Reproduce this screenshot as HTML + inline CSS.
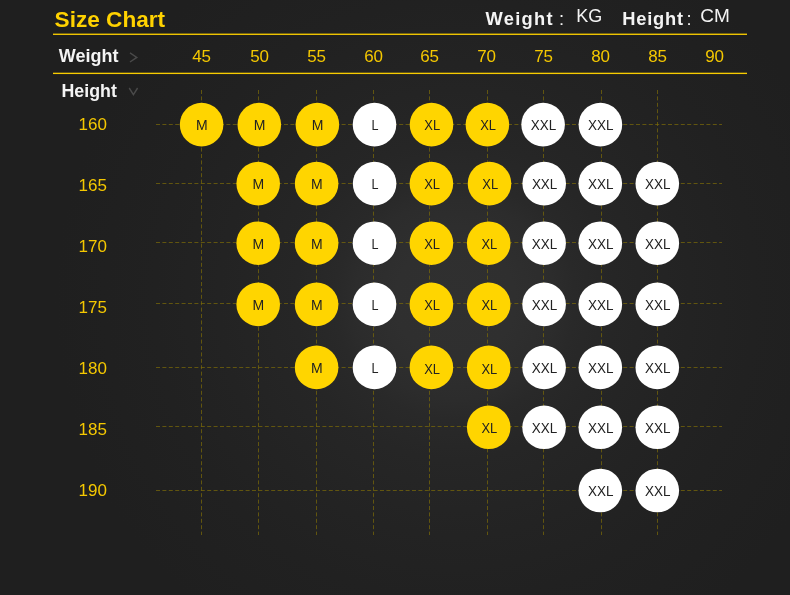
<!DOCTYPE html>
<html lang="en"><head><meta charset="utf-8"><title>Size Chart</title>
<style>
html,body{margin:0;padding:0;background:#1f1f1f;}
body{width:790px;height:595px;overflow:hidden;}
svg{display:block;font-family:"Liberation Sans","DejaVu Sans",sans-serif;}
.t{font-weight:bold;font-size:22.6px;fill:#ffd200;}
.w{font-weight:bold;font-size:18px;fill:#f4f4f4;}
.w2{font-weight:bold;font-size:18.3px;fill:#f4f4f4;}
.u{font-size:18px;fill:#f4f4f4;}
.n{font-size:17px;fill:#f5c800;text-anchor:middle;}
.c{font-size:14px;fill:#222;text-anchor:middle;}
.g{stroke:#7a6a08;stroke-opacity:.72;stroke-width:1;stroke-dasharray:4 2.4;fill:none;}
</style></head><body>
<svg width="790" height="595" viewBox="0 0 790 595">
<defs>
<radialGradient id="bg" gradientUnits="userSpaceOnUse" cx="455" cy="300" r="400">
<stop offset="0" stop-color="#303030"/>
<stop offset="0.15" stop-color="#2f2f2f"/>
<stop offset="0.25" stop-color="#2c2c2c"/>
<stop offset="0.30" stop-color="#292929"/>
<stop offset="0.40" stop-color="#262626"/>
<stop offset="0.59" stop-color="#232323"/>
<stop offset="0.75" stop-color="#212121"/>
<stop offset="1" stop-color="#1f1f1f"/>
</radialGradient>
</defs>
<rect width="790" height="595" fill="#1f1f1f"/>
<rect width="790" height="595" fill="url(#bg)"/>

<line class="g" x1="156" y1="124.5" x2="722" y2="124.5"/>
<line class="g" x1="156" y1="183.5" x2="722" y2="183.5"/>
<line class="g" x1="156" y1="242.5" x2="722" y2="242.5"/>
<line class="g" x1="156" y1="303.5" x2="722" y2="303.5"/>
<line class="g" x1="156" y1="367.5" x2="722" y2="367.5"/>
<line class="g" x1="156" y1="426.5" x2="722" y2="426.5"/>
<line class="g" x1="156" y1="490.5" x2="722" y2="490.5"/>
<line class="g" x1="201.5" y1="90" x2="201.5" y2="535"/>
<line class="g" x1="258.5" y1="90" x2="258.5" y2="535"/>
<line class="g" x1="316.5" y1="90" x2="316.5" y2="535"/>
<line class="g" x1="373.5" y1="90" x2="373.5" y2="535"/>
<line class="g" x1="429.5" y1="90" x2="429.5" y2="535"/>
<line class="g" x1="487.5" y1="90" x2="487.5" y2="535"/>
<line class="g" x1="543.5" y1="90" x2="543.5" y2="535"/>
<line class="g" x1="601.5" y1="90" x2="601.5" y2="535"/>
<line class="g" x1="657.5" y1="90" x2="657.5" y2="535"/>
<text class="t" x="54.6" y="27.1">Size Chart</text>
<rect x="53" y="33.6" width="694" height="1.35" fill="#f8cc00"/>
<rect x="53" y="72.7" width="694" height="1.35" fill="#f8cc00"/>
<text class="w2" x="485.4" y="24.6" textLength="67.2">Weight</text><text class="w2" x="559" y="24.6" style="font-weight:normal">:</text>
<text class="u" x="576.3" y="22.2">KG</text>
<text class="w2" x="622.3" y="24.6" textLength="60.7">Height</text><text class="w2" x="686.5" y="24.6" style="font-weight:normal">:</text>
<text class="u" x="700.3" y="22.2" textLength="29.6" lengthAdjust="spacingAndGlyphs">CM</text>
<text class="w" x="58.8" y="61.8">Weight</text>
<text class="w" x="61.5" y="97" textLength="55.4" lengthAdjust="spacingAndGlyphs">Height</text>
<path d="M130 52.9 L136.8 57.4 L130 62" stroke="#4a4a4a" stroke-width="1.4" fill="none"/>
<path d="M129.2 88 L133.4 94.6 L137.6 88" stroke="#4a4a4a" stroke-width="1.4" fill="none"/>
<text class="n" x="201.6" y="62.4">45</text>
<text class="n" x="259.6" y="62.4">50</text>
<text class="n" x="316.6" y="62.4">55</text>
<text class="n" x="373.6" y="62.4">60</text>
<text class="n" x="429.6" y="62.4">65</text>
<text class="n" x="486.6" y="62.4">70</text>
<text class="n" x="543.6" y="62.4">75</text>
<text class="n" x="600.6" y="62.4">80</text>
<text class="n" x="657.6" y="62.4">85</text>
<text class="n" x="714.6" y="62.4">90</text>
<text class="n" x="92.8" y="130.0">160</text>
<text class="n" x="92.8" y="191.1">165</text>
<text class="n" x="92.8" y="252.1">170</text>
<text class="n" x="92.8" y="313.1">175</text>
<text class="n" x="92.8" y="374.2">180</text>
<text class="n" x="92.8" y="435.2">185</text>
<text class="n" x="92.8" y="496.3">190</text>
<circle cx="201.6" cy="124.6" r="21.8" fill="#ffd500"/><text class="c" x="201.8" y="130.4">M</text>
<circle cx="259.3" cy="124.6" r="21.8" fill="#ffd500"/><text class="c" x="259.5" y="130.4">M</text>
<circle cx="317.4" cy="124.6" r="21.8" fill="#ffd500"/><text class="c" x="317.6" y="130.4">M</text>
<circle cx="374.5" cy="124.6" r="21.8" fill="#ffffff"/><text class="c" x="375.0" y="130.4" textLength="7" lengthAdjust="spacingAndGlyphs">L</text>
<circle cx="431.5" cy="124.6" r="21.8" fill="#ffd500"/><text class="c" x="432.2" y="130.4" textLength="15.8" lengthAdjust="spacingAndGlyphs">XL</text>
<circle cx="487.4" cy="124.6" r="21.8" fill="#ffd500"/><text class="c" x="488.1" y="130.4" textLength="15.8" lengthAdjust="spacingAndGlyphs">XL</text>
<circle cx="543.1" cy="124.6" r="21.8" fill="#ffffff"/><text class="c" x="543.5" y="130.4" textLength="25.4" lengthAdjust="spacingAndGlyphs">XXL</text>
<circle cx="600.4" cy="124.6" r="21.8" fill="#ffffff"/><text class="c" x="600.8" y="130.4" textLength="25.4" lengthAdjust="spacingAndGlyphs">XXL</text>
<circle cx="258.2" cy="183.6" r="21.8" fill="#ffd500"/><text class="c" x="258.4" y="189.4">M</text>
<circle cx="316.6" cy="183.6" r="21.8" fill="#ffd500"/><text class="c" x="316.8" y="189.4">M</text>
<circle cx="374.6" cy="183.6" r="21.8" fill="#ffffff"/><text class="c" x="375.1" y="189.4" textLength="7" lengthAdjust="spacingAndGlyphs">L</text>
<circle cx="431.4" cy="183.6" r="21.8" fill="#ffd500"/><text class="c" x="432.1" y="189.4" textLength="15.8" lengthAdjust="spacingAndGlyphs">XL</text>
<circle cx="489.5" cy="183.6" r="21.8" fill="#ffd500"/><text class="c" x="490.2" y="189.4" textLength="15.8" lengthAdjust="spacingAndGlyphs">XL</text>
<circle cx="544.2" cy="183.6" r="21.8" fill="#ffffff"/><text class="c" x="544.6" y="189.4" textLength="25.4" lengthAdjust="spacingAndGlyphs">XXL</text>
<circle cx="600.3" cy="183.6" r="21.8" fill="#ffffff"/><text class="c" x="600.7" y="189.4" textLength="25.4" lengthAdjust="spacingAndGlyphs">XXL</text>
<circle cx="657.3" cy="183.6" r="21.8" fill="#ffffff"/><text class="c" x="657.7" y="189.4" textLength="25.4" lengthAdjust="spacingAndGlyphs">XXL</text>
<circle cx="258.2" cy="243.2" r="21.8" fill="#ffd500"/><text class="c" x="258.4" y="249.0">M</text>
<circle cx="316.6" cy="243.2" r="21.8" fill="#ffd500"/><text class="c" x="316.8" y="249.0">M</text>
<circle cx="374.5" cy="243.2" r="21.8" fill="#ffffff"/><text class="c" x="375.0" y="249.0" textLength="7" lengthAdjust="spacingAndGlyphs">L</text>
<circle cx="431.4" cy="243.2" r="21.8" fill="#ffd500"/><text class="c" x="432.1" y="249.0" textLength="15.8" lengthAdjust="spacingAndGlyphs">XL</text>
<circle cx="488.7" cy="243.2" r="21.8" fill="#ffd500"/><text class="c" x="489.4" y="249.0" textLength="15.8" lengthAdjust="spacingAndGlyphs">XL</text>
<circle cx="544.1" cy="243.2" r="21.8" fill="#ffffff"/><text class="c" x="544.5" y="249.0" textLength="25.4" lengthAdjust="spacingAndGlyphs">XXL</text>
<circle cx="600.3" cy="243.2" r="21.8" fill="#ffffff"/><text class="c" x="600.7" y="249.0" textLength="25.4" lengthAdjust="spacingAndGlyphs">XXL</text>
<circle cx="657.3" cy="243.2" r="21.8" fill="#ffffff"/><text class="c" x="657.7" y="249.0" textLength="25.4" lengthAdjust="spacingAndGlyphs">XXL</text>
<circle cx="258.2" cy="304.4" r="21.8" fill="#ffd500"/><text class="c" x="258.4" y="310.2">M</text>
<circle cx="316.6" cy="304.4" r="21.8" fill="#ffd500"/><text class="c" x="316.8" y="310.2">M</text>
<circle cx="374.5" cy="304.4" r="21.8" fill="#ffffff"/><text class="c" x="375.0" y="310.2" textLength="7" lengthAdjust="spacingAndGlyphs">L</text>
<circle cx="431.4" cy="304.4" r="21.8" fill="#ffd500"/><text class="c" x="432.1" y="310.2" textLength="15.8" lengthAdjust="spacingAndGlyphs">XL</text>
<circle cx="488.7" cy="304.4" r="21.8" fill="#ffd500"/><text class="c" x="489.4" y="310.2" textLength="15.8" lengthAdjust="spacingAndGlyphs">XL</text>
<circle cx="544.1" cy="304.4" r="21.8" fill="#ffffff"/><text class="c" x="544.5" y="310.2" textLength="25.4" lengthAdjust="spacingAndGlyphs">XXL</text>
<circle cx="600.3" cy="304.4" r="21.8" fill="#ffffff"/><text class="c" x="600.7" y="310.2" textLength="25.4" lengthAdjust="spacingAndGlyphs">XXL</text>
<circle cx="657.3" cy="304.4" r="21.8" fill="#ffffff"/><text class="c" x="657.7" y="310.2" textLength="25.4" lengthAdjust="spacingAndGlyphs">XXL</text>
<circle cx="316.6" cy="367.4" r="21.8" fill="#ffd500"/><text class="c" x="316.8" y="373.2">M</text>
<circle cx="374.5" cy="367.4" r="21.8" fill="#ffffff"/><text class="c" x="375.0" y="373.2" textLength="7" lengthAdjust="spacingAndGlyphs">L</text>
<circle cx="431.4" cy="367.4" r="21.8" fill="#ffd500"/><text class="c" x="432.1" y="374.2" textLength="15.8" lengthAdjust="spacingAndGlyphs">XL</text>
<circle cx="488.7" cy="367.4" r="21.8" fill="#ffd500"/><text class="c" x="489.4" y="374.2" textLength="15.8" lengthAdjust="spacingAndGlyphs">XL</text>
<circle cx="544.1" cy="367.4" r="21.8" fill="#ffffff"/><text class="c" x="544.5" y="373.2" textLength="25.4" lengthAdjust="spacingAndGlyphs">XXL</text>
<circle cx="600.3" cy="367.4" r="21.8" fill="#ffffff"/><text class="c" x="600.7" y="373.2" textLength="25.4" lengthAdjust="spacingAndGlyphs">XXL</text>
<circle cx="657.3" cy="367.4" r="21.8" fill="#ffffff"/><text class="c" x="657.7" y="373.2" textLength="25.4" lengthAdjust="spacingAndGlyphs">XXL</text>
<circle cx="488.7" cy="427.3" r="21.8" fill="#ffd500"/><text class="c" x="489.4" y="433.1" textLength="15.8" lengthAdjust="spacingAndGlyphs">XL</text>
<circle cx="544.1" cy="427.3" r="21.8" fill="#ffffff"/><text class="c" x="544.5" y="433.1" textLength="25.4" lengthAdjust="spacingAndGlyphs">XXL</text>
<circle cx="600.3" cy="427.3" r="21.8" fill="#ffffff"/><text class="c" x="600.7" y="433.1" textLength="25.4" lengthAdjust="spacingAndGlyphs">XXL</text>
<circle cx="657.3" cy="427.3" r="21.8" fill="#ffffff"/><text class="c" x="657.7" y="433.1" textLength="25.4" lengthAdjust="spacingAndGlyphs">XXL</text>
<circle cx="600.3" cy="490.5" r="21.8" fill="#ffffff"/><text class="c" x="600.7" y="496.3" textLength="25.4" lengthAdjust="spacingAndGlyphs">XXL</text>
<circle cx="657.3" cy="490.5" r="21.8" fill="#ffffff"/><text class="c" x="657.7" y="496.3" textLength="25.4" lengthAdjust="spacingAndGlyphs">XXL</text>
</svg></body></html>
